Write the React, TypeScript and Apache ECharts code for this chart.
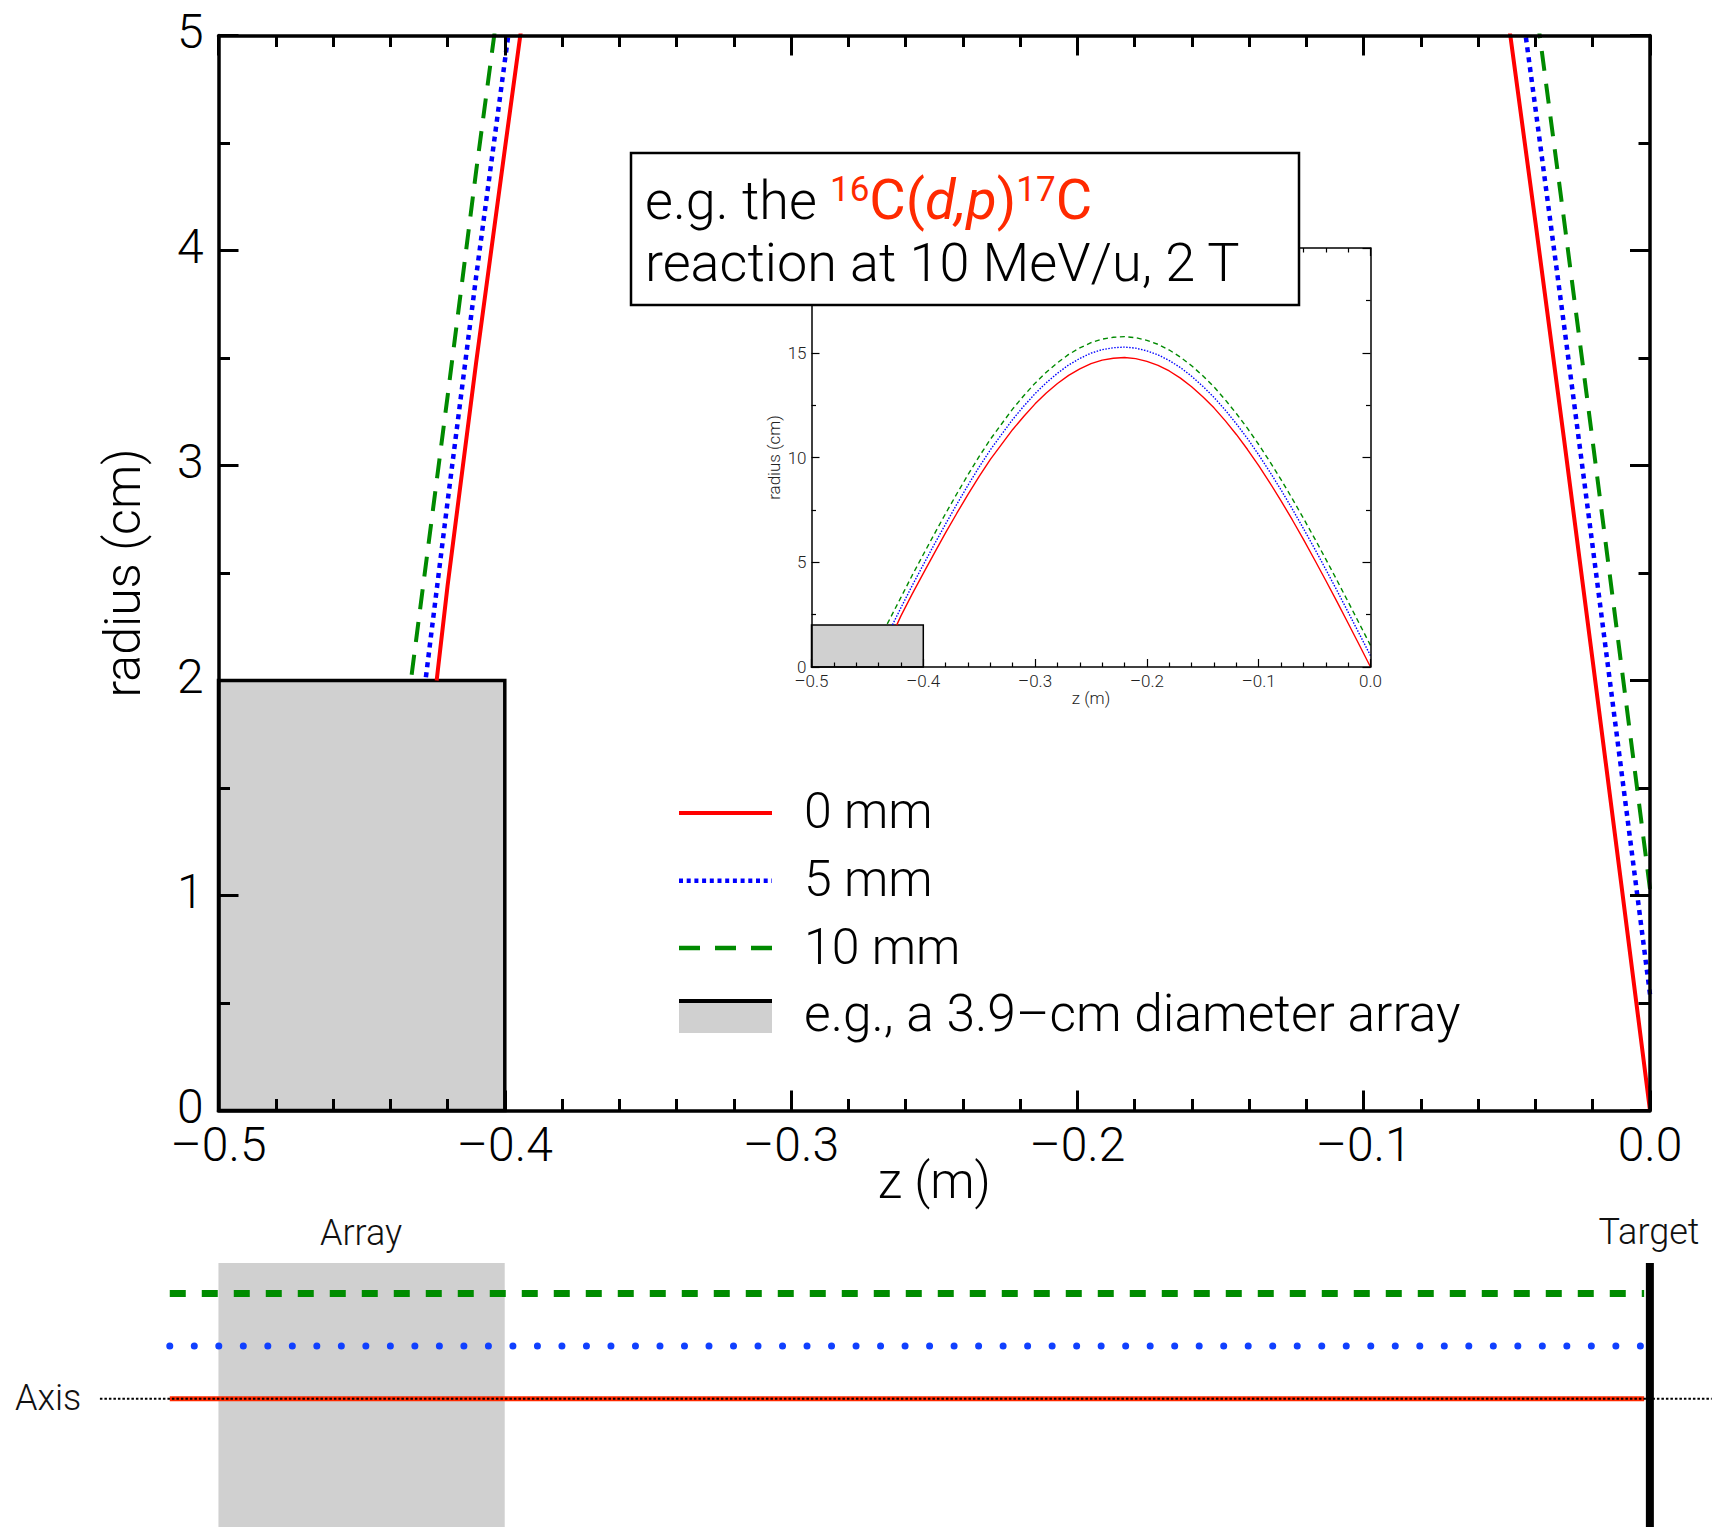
import React, { useEffect, useRef } from "react";
import * as echarts from "echarts";

// ---------------- data ----------------
// z positions (m) along the beam axis (target at z = 0)
const Z_M = [0, -0.01, -0.02, -0.03, -0.04, -0.05, -0.06, -0.07, -0.08, -0.09, -0.1, -0.11, -0.12, -0.13, -0.14, -0.15, -0.16, -0.17, -0.18, -0.19, -0.2, -0.21, -0.22, -0.23, -0.24, -0.25, -0.26, -0.27, -0.28, -0.29, -0.3, -0.31, -0.32, -0.33, -0.34, -0.35, -0.36, -0.37, -0.38, -0.39, -0.4, -0.41, -0.42];
// radius (cm) of the proton trajectory for the three beam offsets
const R_0MM = [0, 1.05, 2.09, 3.12, 4.13, 5.12, 6.09, 7.03, 7.93, 8.79, 9.61, 10.38, 11.1, 11.76, 12.37, 12.9, 13.38, 13.79, 14.13, 14.4, 14.59, 14.72, 14.77, 14.74, 14.65, 14.48, 14.23, 13.92, 13.53, 13.08, 12.56, 11.97, 11.34, 10.63, 9.91, 9.1, 8.24, 7.34, 6.41, 5.45, 4.47, 3.48, 2.44];
const R_5MM = [0.54, 1.58, 2.62, 3.65, 4.66, 5.65, 6.61, 7.55, 8.45, 9.31, 10.13, 10.9, 11.61, 12.27, 12.87, 13.4, 13.88, 14.29, 14.63, 14.9, 15.09, 15.22, 15.27, 15.24, 15.15, 14.98, 14.73, 14.42, 14.02, 13.57, 13.05, 12.46, 11.82, 11.1, 10.37, 9.55, 8.68, 7.77, 6.83, 5.87, 4.88, 3.88, 2.83];
const R_10MM = [1.03, 2.07, 3.11, 4.14, 5.15, 6.14, 7.1, 8.04, 8.94, 9.8, 10.62, 11.39, 12.1, 12.76, 13.37, 13.9, 14.38, 14.79, 15.13, 15.4, 15.59, 15.72, 15.77, 15.74, 15.65, 15.48, 15.23, 14.92, 14.52, 14.07, 13.55, 12.96, 12.32, 11.6, 10.87, 10.05, 9.18, 8.27, 7.33, 6.36, 5.37, 4.37, 3.32];
// z where each trajectory meets the top of the array (r = 2 cm)
const ARRAY_HIT_Z = [-0.4238, -0.4277, -0.4328];
const ARRAY_HIT_R = 2.0;
// the array (z extent in m, radius in cm)
const ARRAY_Z = [-0.5, -0.4];
const ARRAY_R = 2.0;

const SERIES_NAMES = ["0 mm", "5 mm", "10 mm"];
const ARRAY_LABEL = "e.g., a 3.9\u2013cm diameter array";

// axis ticks
const X_TICKS = [-0.5, -0.4, -0.3, -0.2, -0.1, 0];
const X_TICK_LABELS = ["\u20130.5", "\u20130.4", "\u20130.3", "\u20130.2", "\u20130.1", "0.0"];
const Y_TICKS = [0, 1, 2, 3, 4, 5];
const Y_TICK_LABELS = ["0", "1", "2", "3", "4", "5"];
const INSET_Y_TICKS = [0, 5, 10, 15];
const INSET_Y_TICK_LABELS = ["0", "5", "10", "15"];

// schematic below: beam offsets (mm) and extents (m)
const BEAM_OFFSETS_MM = [0, 5, 10];
const BEAM_Z_RANGE = [-0.517, -0.002];
const AXIS_Z_RANGE = [-0.5414, 0.0216];
const TARGET_Z = 0;
const SCHEM_Z_RANGE = [-0.5763, 0.0217];
const SCHEM_R_RANGE = [-12.2, 12.9];

// ---------------- styles ----------------
const FONT = "Roboto, 'Liberation Sans', Arial, Helvetica, sans-serif";
const FW = 300;
const COLORS = ["#ff0000", "#0000ff", "#008a00"];
const SCHEM_COLORS = ["#ff2a00", "#1040ff", "#008c00"];
const TEXT_RED = "#ff2a00";
const GRAY = "#d0d0d0";

const lookup = (ticks: number[], labels: string[], rich = false) => (v: number) => {
  const i = ticks.findIndex((t) => Math.abs(t - v) < 1e-9);
  const s = i >= 0 ? labels[i] : "";
  return rich && s ? `{a|${s}}` : s;
};

function buildOption() {
  const trackData = (rs: number[], k: number) => [
    ...Z_M.map((z, i) => [z, rs[i]]),
    [ARRAY_HIT_Z[k], ARRAY_HIT_R],
  ];
  const tracks = [R_0MM, R_5MM, R_10MM];

  const mainDash: any[] = ["solid", [5, 5], [20, 13]];
  const mainWidth = [4, 4.5, 4];
  const insetDash: any[] = ["solid", [1.5, 1.5], [5, 3.5]];

  const bigAxis = (extra: any) => ({
    type: "value",
    axisLine: { show: true, onZero: false, lineStyle: { color: "#000", width: 3.5 } },
    axisTick: { show: true, inside: true, length: 20, lineStyle: { color: "#000", width: 3 } },
    minorTick: { show: true, length: 11.5, lineStyle: { color: "#000", width: 3 } },
    splitLine: { show: false },
    minorSplitLine: { show: false },
    z: 10,
    ...extra,
  });
  const smallAxis = (extra: any) => ({
    type: "value",
    axisLine: { show: true, onZero: false, lineStyle: { color: "#000", width: 1.5 } },
    axisTick: { show: true, inside: true, length: 8, lineStyle: { color: "#000", width: 1.2 } },
    minorTick: { show: true, length: 4.5, lineStyle: { color: "#000", width: 1.2 } },
    splitLine: { show: false },
    minorSplitLine: { show: false },
    z: 10,
    ...extra,
  });

  const xAxis = [
    bigAxis({
      gridIndex: 0, position: "bottom", min: -0.5, max: 0, interval: 0.1,
      minorTick: { show: true, splitNumber: 5, length: 11.5, lineStyle: { color: "#000", width: 3 } },
      axisLabel: { show: true, fontSize: 48, fontWeight: FW, color: "#000", margin: 10, fontFamily: FONT, formatter: lookup(X_TICKS, X_TICK_LABELS), showMinLabel: true, showMaxLabel: true },
      name: "z (m)", nameLocation: "middle", nameGap: 45, nameMoveOverlap: false,
      nameTextStyle: { fontSize: 50, fontWeight: FW, color: "#000", fontFamily: FONT },
    }),
    bigAxis({
      gridIndex: 0, position: "top", min: -0.5, max: 0, interval: 0.1,
      minorTick: { show: true, splitNumber: 5, length: 11.5, lineStyle: { color: "#000", width: 3 } },
      axisLabel: { show: false },
    }),
    smallAxis({
      gridIndex: 1, position: "bottom", min: -0.5, max: 0, interval: 0.1,
      minorTick: { show: true, splitNumber: 5, length: 4.5, lineStyle: { color: "#000", width: 1.2 } },
      axisLabel: { show: true, fontSize: 17, fontWeight: FW, color: "#222", margin: 5, fontFamily: FONT, formatter: lookup(X_TICKS, X_TICK_LABELS), showMinLabel: true, showMaxLabel: true },
      name: "z (m)", nameLocation: "middle", nameGap: 21,
      nameTextStyle: { fontSize: 17, fontWeight: FW, color: "#222", fontFamily: FONT },
    }),
    smallAxis({
      gridIndex: 1, position: "top", min: -0.5, max: 0, interval: 0.1,
      minorTick: { show: true, splitNumber: 5, length: 4.5, lineStyle: { color: "#000", width: 1.2 } },
      axisLabel: { show: false },
    }),
    { type: "value", gridIndex: 2, min: SCHEM_Z_RANGE[0], max: SCHEM_Z_RANGE[1], show: false, axisLine: { onZero: false } },
  ];

  const yAxis = [
    bigAxis({
      gridIndex: 0, position: "left", min: 0, max: 5, interval: 1,
      minorTick: { show: true, splitNumber: 2, length: 11.5, lineStyle: { color: "#000", width: 3 } },
      axisLabel: {
        show: true, fontSize: 48, fontWeight: FW, color: "#000", margin: 15, fontFamily: FONT,
        formatter: lookup(Y_TICKS, Y_TICK_LABELS, true), showMinLabel: true, showMaxLabel: true,
        rich: { a: { fontSize: 48, fontWeight: FW, lineHeight: 10, color: "#000", fontFamily: FONT, padding: [0, 0, 9, 0] } },
      },
      name: "radius (cm)", nameLocation: "middle", nameGap: 71, nameMoveOverlap: false,
      nameTextStyle: { fontSize: 50, fontWeight: FW, color: "#000", fontFamily: FONT },
    }),
    bigAxis({
      gridIndex: 0, position: "right", min: 0, max: 5, interval: 1,
      minorTick: { show: true, splitNumber: 2, length: 11.5, lineStyle: { color: "#000", width: 3 } },
      axisLabel: { show: false },
    }),
    smallAxis({
      gridIndex: 1, position: "left", min: 0, max: 20, interval: 5,
      minorTick: { show: true, splitNumber: 2, length: 4.5, lineStyle: { color: "#000", width: 1.2 } },
      axisLabel: {
        show: true, fontSize: 17, fontWeight: FW, color: "#222", margin: 5, fontFamily: FONT,
        formatter: lookup(INSET_Y_TICKS, INSET_Y_TICK_LABELS, true), showMinLabel: true, showMaxLabel: false,
        rich: { a: { fontSize: 17, fontWeight: FW, lineHeight: 8, color: "#222", fontFamily: FONT } },
      },
      name: "radius (cm)", nameLocation: "middle", nameGap: 29,
      nameTextStyle: { fontSize: 17, fontWeight: FW, color: "#222", fontFamily: FONT },
    }),
    smallAxis({
      gridIndex: 1, position: "right", min: 0, max: 20, interval: 5,
      minorTick: { show: true, splitNumber: 2, length: 4.5, lineStyle: { color: "#000", width: 1.2 } },
      axisLabel: { show: false },
    }),
    { type: "value", gridIndex: 2, min: SCHEM_R_RANGE[0], max: SCHEM_R_RANGE[1], show: false, axisLine: { onZero: false } },
  ];

  const series: any[] = [];

  // main plot: array rectangle
  series.push({
    type: "line", xAxisIndex: 0, yAxisIndex: 0, silent: true, symbol: "none",
    data: [[ARRAY_Z[0], 0]], lineStyle: { width: 0 }, z: 1,
    markArea: {
      silent: true,
      itemStyle: { color: GRAY, borderColor: "#000", borderWidth: 3.5 },
      data: [[{ coord: [ARRAY_Z[0], 0] }, { coord: [ARRAY_Z[1], ARRAY_R] }]],
    },
  });
  tracks.forEach((rs, k) => {
    series.push({
      type: "line", name: SERIES_NAMES[k], xAxisIndex: 0, yAxisIndex: 0, silent: true,
      symbol: "none", clip: true, z: 3 + k,
      data: trackData(rs, k),
      lineStyle: { color: COLORS[k], width: mainWidth[k], type: mainDash[k], cap: "butt" },
    });
  });

  // inset
  series.push({
    type: "line", xAxisIndex: 2, yAxisIndex: 2, silent: true, symbol: "none",
    data: [[ARRAY_Z[0], 0]], lineStyle: { width: 0 }, z: 1,
    markArea: {
      silent: true,
      itemStyle: { color: GRAY, borderColor: "#000", borderWidth: 1.5 },
      data: [[{ coord: [ARRAY_Z[0], 0] }, { coord: [ARRAY_Z[1], ARRAY_R] }]],
    },
  });
  tracks.forEach((rs, k) => {
    series.push({
      type: "line", xAxisIndex: 2, yAxisIndex: 2, silent: true,
      symbol: "none", clip: true, z: 3 + k,
      data: trackData(rs, k),
      lineStyle: { color: COLORS[k], width: 1.4, type: insetDash[k], cap: "butt" },
    });
  });

  // schematic
  series.push({
    type: "line", xAxisIndex: 4, yAxisIndex: 4, silent: true, symbol: "none",
    data: [[ARRAY_Z[0], 0]], lineStyle: { width: 0 }, z: 1,
    markArea: {
      silent: true,
      itemStyle: { color: GRAY },
      data: [[{ coord: [ARRAY_Z[0], SCHEM_R_RANGE[1]] }, { coord: [ARRAY_Z[1], SCHEM_R_RANGE[0]] }]],
    },
  });
  const schemStyles: any[] = [
    { width: 5, type: "solid", cap: "butt" },
    { width: 7, type: [0.01, 24.5], cap: "round" },
    { width: 7, type: [16, 16], cap: "butt" },
  ];
  [2, 1, 0].forEach((k) => {
    series.push({
      type: "line", xAxisIndex: 4, yAxisIndex: 4, silent: true, symbol: "none", clip: false,
      z: 3 + (2 - k),
      data: BEAM_Z_RANGE.map((z) => [z, BEAM_OFFSETS_MM[k]]),
      lineStyle: { color: SCHEM_COLORS[k], ...schemStyles[k] },
    });
  });
  series.push({
    type: "line", xAxisIndex: 4, yAxisIndex: 4, silent: true, symbol: "none", clip: false, z: 7,
    data: AXIS_Z_RANGE.map((z) => [z, 0]),
    lineStyle: { color: "#000", width: 2, type: [2.5, 2] },
  });
  series.push({
    type: "line", xAxisIndex: 4, yAxisIndex: 4, silent: true, symbol: "none", clip: false, z: 8,
    data: SCHEM_R_RANGE.map((r) => [TARGET_Z, r]),
    lineStyle: { color: "#000", width: 8 },
  });

  // ------------- graphic: text box, legend, schematic labels -------------
  const txt = (x: number, y: number, text: string, size: number, align = "left", extra: any = {}) => ({
    type: "text", x, y, z: 101, silent: true,
    style: {
      text, fontSize: size, fontFamily: FONT, fontWeight: FW, fill: "#000",
      textAlign: align, align, textVerticalAlign: "middle", verticalAlign: "middle",
      ...extra,
    },
  });

  const legendX1 = 679, legendX2 = 772;
  const legendLineY = [813, 880.7, 948];
  const legendTextY = [811.4, 879.4, 947, 1013.4];
  const legendDash: any[] = [null, [4, 3.7], [21, 15]];
  const legendWidth = [4, 4.5, 4.5];

  const graphic: any[] = [];
  // text box
  graphic.push({
    type: "rect", z: 100, silent: true,
    shape: { x: 631, y: 153, width: 668, height: 152 },
    style: { fill: "#fff", stroke: "#000", lineWidth: 2.5 },
  });
  const big = { fontSize: 54, lineHeight: 62, fontFamily: FONT, fontWeight: FW };
  const bigRed = { fontSize: 56, lineHeight: 62, fontFamily: FONT, fontWeight: 400, fill: TEXT_RED, color: TEXT_RED };
  graphic.push({
    type: "text", x: 645, y: 169, z: 101, silent: true,
    style: {
      text: "{k|e.g. the }{s|16}{r|C(}{ri|d,p}{r|)}{s|17}{r|C}\n{k|reaction at 10 MeV/u, 2 T}",
      fontSize: 54, fontFamily: FONT, fontWeight: FW, fill: "#000",
      textAlign: "left", align: "left", textVerticalAlign: "top", verticalAlign: "top",
      rich: {
        k: { ...big, fill: "#000", color: "#000" },
        r: { ...bigRed },
        ri: { ...bigRed, fontStyle: "italic" },
        s: { fontSize: 35, lineHeight: 35, fontFamily: FONT, fontWeight: 400, fill: TEXT_RED, color: TEXT_RED, padding: [0, 0, 21, 0] },
      },
    },
  });

  // legend
  SERIES_NAMES.forEach((name, k) => {
    graphic.push({
      type: "line", z: 100, silent: true,
      shape: { x1: legendX1, y1: legendLineY[k], x2: legendX2, y2: legendLineY[k] },
      style: { stroke: COLORS[k], lineWidth: legendWidth[k], lineDash: legendDash[k] },
    });
    graphic.push(txt(804, legendTextY[k], name, 50));
  });
  graphic.push({
    type: "rect", z: 100, silent: true,
    shape: { x: legendX1, y: 1001, width: legendX2 - legendX1, height: 32 },
    style: { fill: GRAY },
  });
  graphic.push({
    type: "line", z: 100, silent: true,
    shape: { x1: legendX1, y1: 1001, x2: legendX2, y2: 1001 },
    style: { stroke: "#000", lineWidth: 4 },
  });
  graphic.push(txt(804, legendTextY[3], ARRAY_LABEL, 51.5));

  // schematic labels
  graphic.push(txt(361, 1233, "Array", 36, "center", { fill: "#111" }));
  graphic.push(txt(1649, 1232, "Target", 36, "center", { fill: "#111" }));
  graphic.push(txt(15, 1397.5, "Axis", 36, "left", { fill: "#111" }));

  return {
    animation: false,
    backgroundColor: "#fff",
    textStyle: { fontFamily: FONT, fontWeight: FW },
    grid: [
      { left: 218.5, top: 35.5, width: 1431.5, height: 1075, outerBoundsMode: "none" },
      { left: 811.5, top: 248, width: 559, height: 419, outerBoundsMode: "none" },
      { left: 0, top: 1263, width: 1712, height: 264, outerBoundsMode: "none" },
    ],
    xAxis,
    yAxis,
    series,
    graphic,
  };
}

export default function App() {
  const ref = useRef<HTMLDivElement>(null);
  useEffect(() => {
    const chart = echarts.init(ref.current as HTMLDivElement, null, { renderer: "svg" });
    chart.setOption(buildOption() as any);
    return () => chart.dispose();
  }, []);
  return (
    <div
      ref={ref}
      style={{ position: "absolute", left: 0, top: 0, width: 1712, height: 1527, background: "#fff" }}
    />
  );
}
